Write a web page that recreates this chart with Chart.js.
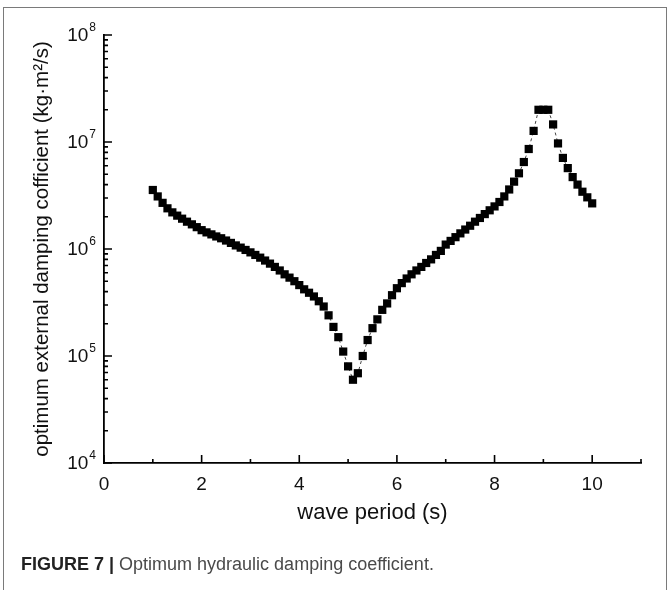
<!DOCTYPE html>
<html>
<head>
<meta charset="utf-8">
<script src="https://cdn.jsdelivr.net/npm/chart.js@4.4.1/dist/chart.umd.min.js"></script>
<style>
  html, body { margin: 0; padding: 0; background: #fff; }
  #wrap { position: relative; width: 670px; height: 590px; overflow: hidden; }
  #frame {
    position: absolute; left: 3px; top: 7px; width: 664px; height: 600px;
    border: 1px solid #7a7a7a; box-sizing: border-box;
  }
  #chart { position: absolute; left: 0; top: 0; }
  #caption {
    position: absolute; left: 21px; top: 554px;
    font-family: "Liberation Sans", Arial, sans-serif; font-size: 18px;
    color: #4a4a4a; white-space: nowrap;
  }
  #caption b { color: #222; }
</style>
</head>
<body>
<div id="wrap">
  <div id="frame"></div>
  <canvas id="chart" width="670" height="590"></canvas>
  <div id="caption"><b>FIGURE 7 |</b> Optimum hydraulic damping coefficient.</div>
</div>
<script>
// wave period (s)
const periods = [
  1.0, 1.1, 1.2, 1.3, 1.4, 1.5, 1.6, 1.7, 1.8, 1.9,
  2.0, 2.1, 2.2, 2.3, 2.4, 2.5, 2.6, 2.7, 2.8, 2.9,
  3.0, 3.1, 3.2, 3.3, 3.4, 3.5, 3.6, 3.7, 3.8, 3.9,
  4.0, 4.1, 4.2, 4.3, 4.4, 4.5, 4.6, 4.7, 4.8, 4.9,
  5.0, 5.1, 5.2, 5.3, 5.4, 5.5, 5.6, 5.7, 5.8, 5.9,
  6.0, 6.1, 6.2, 6.3, 6.4, 6.5, 6.6, 6.7, 6.8, 6.9,
  7.0, 7.1, 7.2, 7.3, 7.4, 7.5, 7.6, 7.7, 7.8, 7.9,
  8.0, 8.1, 8.2, 8.3, 8.4, 8.5, 8.6, 8.7, 8.8, 8.9,
  9.0, 9.1, 9.2, 9.3, 9.4, 9.5, 9.6, 9.7, 9.8, 9.9,
  10.0
];

// optimum external damping coefficient (kg·m²/s)
const damping = [
  3.56e6, 3.1e6, 2.7e6, 2.4e6, 2.2e6, 2.05e6, 1.92e6, 1.8e6, 1.7e6, 1.6e6,
  1.5e6, 1.43e6, 1.37e6, 1.31e6, 1.26e6, 1.2e6, 1.14e6, 1.08e6, 1.03e6, 9.8e5,
  9.3e5, 8.8e5, 8.3e5, 7.8e5, 7.3e5, 6.8e5, 6.3e5, 5.8e5, 5.4e5, 5.0e5,
  4.6e5, 4.2e5, 3.9e5, 3.6e5, 3.25e5, 2.9e5, 2.4e5, 1.87e5, 1.5e5, 1.1e5,
  8.0e4, 6.0e4, 6.9e4, 1.0e5, 1.41e5, 1.82e5, 2.2e5, 2.7e5, 3.1e5, 3.7e5,
  4.3e5, 4.8e5, 5.3e5, 5.8e5, 6.3e5, 6.8e5, 7.4e5, 8.0e5, 8.8e5, 9.6e5,
  1.1e6, 1.19e6, 1.29e6, 1.4e6, 1.52e6, 1.65e6, 1.8e6, 1.95e6, 2.12e6, 2.3e6,
  2.5e6, 2.75e6, 3.1e6, 3.6e6, 4.26e6, 5.1e6, 6.5e6, 8.6e6, 1.27e7, 2.0e7,
  2.0e7, 2.0e7, 1.46e7, 9.7e6, 7.1e6, 5.7e6, 4.7e6, 4.0e6, 3.43e6, 3.04e6,
  2.67e6
];

// axis ticks
const xMajorTicks = [0, 2, 4, 6, 8, 10];
const xMinorTicks = [1, 3, 5, 7, 9, 11];
const yExponents = [4, 5, 6, 7, 8];

const FONT = '"Liberation Sans", Arial, sans-serif';

// inward tick marks and 10^n labels on the axes
const axisDecor = {
  id: 'axisDecor',
  afterDraw(chart) {
    const { ctx, chartArea: a, scales: { x, y } } = chart;
    ctx.save();
    ctx.strokeStyle = '#000';
    ctx.lineWidth = 1.6;
    ctx.beginPath();
    xMajorTicks.forEach(v => {
      const px = x.getPixelForValue(v);
      ctx.moveTo(px, a.bottom); ctx.lineTo(px, a.bottom - 8);
    });
    xMinorTicks.forEach(v => {
      const px = x.getPixelForValue(v);
      ctx.moveTo(px, a.bottom); ctx.lineTo(px, a.bottom - 4);
    });
    yExponents.forEach(e => {
      const py = y.getPixelForValue(Math.pow(10, e));
      ctx.moveTo(a.left, py); ctx.lineTo(a.left + 8, py);
      if (e < 8) {
        for (let m = 2; m <= 9; m++) {
          const pm = y.getPixelForValue(m * Math.pow(10, e));
          ctx.moveTo(a.left, pm); ctx.lineTo(a.left + 4, pm);
        }
      }
    });
    ctx.stroke();

    ctx.fillStyle = '#111';
    ctx.textBaseline = 'middle';
    yExponents.forEach(e => {
      const py = y.getPixelForValue(Math.pow(10, e));
      ctx.font = '12px ' + FONT;
      ctx.textAlign = 'right';
      const ew = ctx.measureText(String(e)).width;
      ctx.fillText(String(e), a.left - 8, py - 7);
      ctx.font = '19px ' + FONT;
      ctx.fillText('10', a.left - 9 - ew, py + 1);
    });
    ctx.restore();
  }
};

const ctx = document.getElementById('chart').getContext('2d');
new Chart(ctx, {
  type: 'line',
  data: {
    datasets: [{
      data: periods.map((p, i) => ({ x: p, y: damping[i] })),
      borderColor: '#444',
      borderWidth: 1,
      borderDash: [3, 3],
      pointStyle: 'rect',
      pointRadius: 5.8,
      pointBackgroundColor: '#000',
      pointBorderColor: '#000',
      pointBorderWidth: 0,
      fill: false,
      tension: 0
    }]
  },
  options: {
    responsive: false,
    animation: false,
    events: [],
    layout: { padding: { left: 0, top: 35, right: 29, bottom: 0 } },
    plugins: { legend: { display: false }, tooltip: { enabled: false } },
    scales: {
      x: {
        type: 'linear',
        min: 0,
        max: 11,
        afterFit: s => { s.height = 127; },
        grid: { display: false },
        border: { display: true, color: '#000', width: 1.8 },
        ticks: {
          stepSize: 1,
          autoSkip: false,
          maxRotation: 0,
          padding: 2,
          color: '#111',
          font: { family: FONT, size: 19 },
          callback: v => (v % 2 === 0 && v <= 10 ? String(v) : '')
        },
        title: {
          display: true,
          text: 'wave period (s)',
          color: '#111',
          font: { family: FONT, size: 22 },
          padding: { top: 0, bottom: 64 }
        }
      },
      y: {
        type: 'logarithmic',
        min: 1e4,
        max: 1e8,
        afterFit: s => { s.width = 104; },
        grid: { display: false },
        border: { display: true, color: '#000', width: 1.8 },
        ticks: { display: false },
        title: {
          display: true,
          text: 'optimum external damping cofficient (kg·m²/s)',
          color: '#111',
          font: { family: FONT, size: 20.5 },
          padding: { top: 30, bottom: 0 }
        }
      }
    }
  },
  plugins: [axisDecor]
});
</script>
</body>
</html>
